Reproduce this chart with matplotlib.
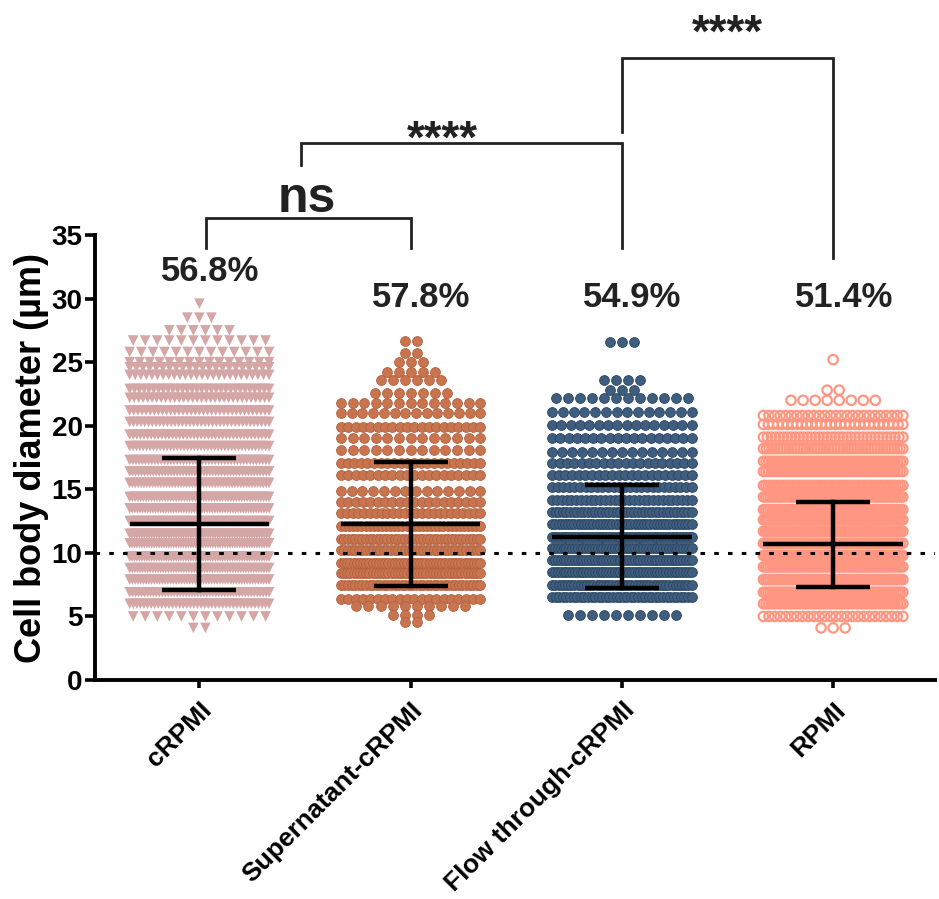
"""
Cell body diameter scatter (Prism-style dot plot) with mean +/- SD
"""
import matplotlib
matplotlib.use("Agg")
import matplotlib.pyplot as plt
import numpy as np

plt.rcParams["font.family"] = ["Liberation Sans", "DejaVu Sans"]
plt.rcParams["font.weight"] = "bold"

# ---- data ----
groups = ["cRPMI", "Supernatant-cRPMI", "Flow through-cRPMI", "RPMI"]
percent_labels = ["56.8%", "57.8%", "54.9%", "51.4%"]
means = [12.28, 12.30, 11.27, 10.66]
sds = [5.18, 4.88, 4.07, 3.37]

# rows of the dot plot: diameter value and number of cells in that row
crpmi_vals = [29.6, 28.5, 27.5, 26.7, 25.8, 25.0, 24.6, 24.0, 22.9, 22.2, 21.2,
              20.3, 19.3, 18.4, 17.3, 16.4, 15.5, 14.4, 13.5, 12.5, 11.5, 10.75,
              9.7, 8.8, 7.9, 6.9, 6.0, 5.0, 4.1]
crpmi_counts = [1, 3, 6, 12, 13, 15, 22, 26, 30, 32, 35,
                38, 40, 42, 45, 48, 50, 52, 55, 55, 58, 58,
                58, 55, 52, 48, 40, 12, 2]

super_vals = [26.7, 25.7, 25.0, 24.2, 23.6, 22.6, 21.8, 21.0, 19.9, 19.0, 18.1,
              17.1, 16.1, 14.9, 14.0, 13.1, 12.1, 11.1, 10.2, 9.2, 8.4, 7.5,
              6.4, 5.8, 5.1, 4.6]
super_counts = [2, 2, 3, 5, 6, 7, 13, 14, 20, 13, 13,
                22, 20, 14, 20, 25, 35, 40, 40, 45, 45, 40,
                20, 10, 4, 2]

flow_vals = [26.6, 23.6, 22.8, 22.15, 21.1, 20.06, 19.0, 17.96, 17.04, 16.12,
             15.2, 14.16, 13.24, 12.3, 11.27, 10.36, 9.44, 8.52, 7.47, 6.55, 5.1]
flow_counts = [3, 4, 3, 12, 14, 16, 18, 15, 20, 22,
               26, 30, 40, 45, 50, 50, 50, 50, 45, 40, 10]

rpmi_vals = [25.2, 22.8, 22.0, 20.8, 20.1, 19.1, 18.2, 17.2, 16.4, 15.3, 14.4,
             13.4, 12.6, 11.7, 10.75, 9.8, 8.9, 7.9, 6.9, 6.0, 5.0, 4.1]
rpmi_counts = [1, 2, 8, 26, 30, 36, 50, 55, 55, 60, 62,
               65, 65, 68, 68, 68, 65, 65, 62, 55, 26, 3]

row_vals = [crpmi_vals, super_vals, flow_vals, rpmi_vals]
row_counts = [crpmi_counts, super_counts, flow_counts, rpmi_counts]

# marker styles per group
styles = [
    dict(marker="v", s=58, c="#D4A6A6", edgecolors="none"),
    dict(marker="o", s=50, c="#C8744F", edgecolors="#B36140", linewidths=0.6),
    dict(marker="o", s=50, c="#3F5D7E", edgecolors="#2B4663", linewidths=0.6),
    dict(marker="o", s=46, facecolors="none", edgecolors="#FF9682", linewidths=1.6),
]


def row_offsets(n, step=0.057, half_width=0.33):
    """横向排布一行点，超出宽度时压缩间距"""
    if n <= 1:
        return np.zeros(1)
    gap = min(step, 2 * half_width / (n - 1))
    return (np.arange(n) - (n - 1) / 2) * gap


fig = plt.figure(figsize=(9.39, 8.99), dpi=100)
ax = fig.add_axes([0.1012, 0.2436, 0.8945, 0.495])

for i, (vals, counts) in enumerate(zip(row_vals, row_counts)):
    xs, ys = [], []
    for v, n in zip(vals, counts):
        xs.extend(i + row_offsets(n))
        ys.extend([v] * n)
    ax.scatter(xs, ys, zorder=2, **styles[i])

# mean +/- SD
for i, (m, s) in enumerate(zip(means, sds)):
    ax.plot([i - 0.33, i + 0.33], [m, m], color="black", lw=3.2, zorder=4,
            solid_capstyle="butt")
    ax.plot([i, i], [m - s, m + s], color="black", lw=3.2, zorder=4)
    for y in (m - s, m + s):
        ax.plot([i - 0.175, i + 0.175], [y, y], color="black", lw=3.2, zorder=4,
                solid_capstyle="butt")

ax.axhline(10, color="black", lw=2.2, linestyle=(0, (1.5, 3)), zorder=3)

# percentages
pct_y = [32.1, 30.1, 30.1, 30.1]
for i, (lab, y) in enumerate(zip(percent_labels, pct_y)):
    ax.text(i + 0.05, y, lab, ha="center", va="center", fontsize=25,
            fontweight="bold", color="#222222")

# significance brackets
brackets = [
    # x_left, x_right, y_top, y_left_end, y_right_end, label, label_x, label_y, size
    (0.03, 1.0, 36.34, 34.0, 34.0, "ns", 0.51, 36.8, 36),
    (0.48, 2.0, 42.24, 40.5, 34.0, "****", 1.15, 41.5, 33),
    (2.0, 3.0, 48.92, 43.1, 33.2, "****", 2.5, 49.8, 33),
]
for xl, xr, yt, yl, yr, lab, lx, ly, fs in brackets:
    ax.plot([xl, xl, xr, xr], [yl, yt, yt, yr], color="#222222", lw=2.0,
            clip_on=False, solid_joinstyle="miter")
    ax.text(lx, ly, lab, ha="center", va="baseline", fontsize=fs,
            fontweight="bold", color="#222222", clip_on=False)

ax.set_xlim(-0.494, 3.482)
ax.set_ylim(0, 35)
ax.set_yticks(np.arange(0, 36, 5))
ax.set_xticks(range(4))
ax.set_xticklabels(groups, rotation=45, ha="right", rotation_mode="anchor",
                   fontsize=19, fontweight="bold")
ax.tick_params(axis="y", labelsize=20, width=2.6, length=7, pad=2)
ax.tick_params(axis="x", width=2.6, length=6, pad=7)
for lab in ax.get_yticklabels():
    lab.set_fontweight("bold")
ax.set_ylabel("Cell body diameter (µm)", fontsize=26, fontweight="bold",
              labelpad=2)

for side in ("top", "right"):
    ax.spines[side].set_visible(False)
for side in ("left", "bottom"):
    ax.spines[side].set_linewidth(2.8)

fig.savefig("out.png", dpi=100)
plt.close(fig)
